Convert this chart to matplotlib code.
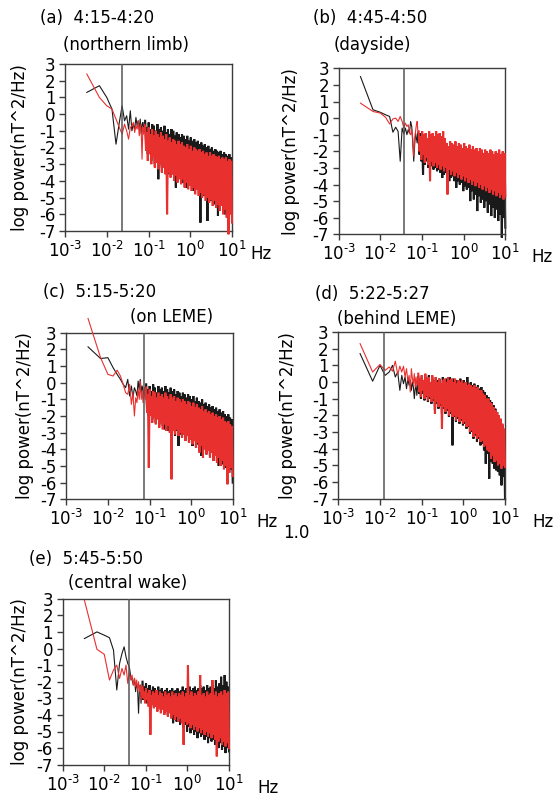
import numpy as np
import matplotlib
matplotlib.use('Agg')
import matplotlib.pyplot as plt
from matplotlib.ticker import NullLocator

plt.rcParams['font.family'] = ['DejaVu Sans']
plt.rcParams['font.size'] = 12
plt.rcParams['axes.unicode_minus'] = False

# FFT bins of a 5 min window (1/300 Hz) for the lowest frequencies,
# then the dense high-frequency part drawn as peaks/troughs
f_low = np.arange(1, 25) / 300.0
f_dense = np.logspace(-1.08, 1.0, 100)

xticks = [1e-3, 1e-2, 1e-1, 1e0, 1e1]
xticklabels = [r'$10^{\text{-}3}$', r'$10^{\text{-}2}$', r'$10^{\text{-}1}$', r'$10^{0}$', r'$10^{1}$']
yticks = [3, 2, 1, 0, -1, -2, -3, -4, -5, -6, -7]

# (a) 4:15-4:20 northern limb
a_black_low = [1.3, 1.7, 1.0, 0.3, -1.8, -0.5, 0.5, -0.4, -0.1, -0.9, 0.2, -1.0,
               -0.6, -0.9, -0.2, -0.7, -0.4, -0.9, -0.3, -1.2, -0.6, -0.5, -1.1, -0.5]
a_black_peaks = [-0.4, -0.8, -0.5, -0.9, -0.6, -0.7, -1.0, -0.6, -0.9, -0.8,
                 -1.0, -0.7, -1.1, -0.9, -1.2, -0.9, -1.0, -1.3, -1.1, -1.2,
                 -1.4, -1.2, -1.3, -1.5, -1.3, -1.6, -1.4, -1.6, -1.5, -1.7,
                 -1.6, -1.8, -1.7, -1.9, -1.8, -2.0, -1.9, -2.1, -2.0, -2.2,
                 -2.1, -2.2, -2.3, -2.2, -2.4, -2.3, -2.4, -2.5, -2.4, -2.6]
a_black_troughs = [-1.8, -2.4, -1.6, -2.8, -2.2, -3.0, -2.5, -3.9, -2.6, -3.2,
                   -2.9, -3.4, -3.0, -3.6, -3.2, -3.6, -3.3, -4.4, -3.5, -3.8,
                   -3.6, -4.1, -3.7, -4.4, -3.9, -4.2, -4.0, -4.6, -4.3, -4.5,
                   -4.4, -6.5, -4.5, -4.9, -4.6, -6.4, -4.7, -5.2, -4.9, -5.4,
                   -5.0, -6.1, -5.1, -5.5, -5.2, -6.0, -5.4, -5.8, -5.9, -5.6]
a_red_low = [2.4, 1.0, 0.5, 0.3, -0.3, -0.8, -1.2, -0.6, -1.0, -1.5, -0.8, -0.7,
             -0.5, -1.1, -0.7, -0.9, -0.4, -1.3, -0.6, -0.9, -2.7, -0.8, -1.2, -0.6]
a_red_peaks = [-0.7, -1.1, -0.8, -1.2, -0.9, -1.3, -1.0, -1.2, -1.4, -1.1,
               -1.3, -1.5, -1.2, -1.6, -1.4, -1.7, -1.5, -1.6, -1.8, -1.6,
               -1.8, -1.7, -1.9, -2.0, -1.8, -2.1, -1.9, -2.2, -2.0, -2.1,
               -2.2, -2.1, -2.3, -2.2, -2.4, -2.3, -2.5, -2.3, -2.5, -2.4,
               -2.5, -2.6, -2.5, -2.7, -2.6, -2.7, -2.6, -2.8, -2.7, -2.8]
a_red_troughs = [-2.2, -2.8, -2.4, -3.0, -2.6, -3.2, -2.9, -3.3, -3.0, -3.5,
                 -3.2, -3.6, -6.0, -3.5, -3.8, -3.6, -4.0, -3.7, -4.1, -3.9,
                 -4.2, -3.9, -4.4, -4.1, -4.5, -4.3, -4.6, -4.4, -4.8, -4.5,
                 -4.9, -4.7, -5.0, -4.8, -5.2, -5.0, -5.3, -5.1, -5.5, -5.2,
                 -5.6, -5.4, -5.8, -5.5, -6.0, -5.7, -6.2, -7.2, -6.0, -6.5]

# (b) 4:45-4:50 dayside
b_black_low = [2.5, 0.5, 0.35, 0.2, 0.1, -0.85, -0.55, -0.8, -2.6, -0.6, -0.95, -0.6,
               -1.0, -0.7, -0.9, -0.2, -0.5, -1.5, -2.6, -1.6, -0.9, -1.2, -1.5, -0.9]
b_black_peaks = [-1.2, -0.9, -1.5, -1.1, -1.4, -1.2, -1.6, -1.3, -1.8, -1.5,
                 -1.7, -1.9, -1.6, -2.0, -1.8, -2.1, -1.9, -2.2, -2.0, -2.3,
                 -2.1, -2.4, -2.2, -2.5, -2.3, -2.6, -2.4, -2.5, -2.7, -2.6,
                 -2.8, -2.6, -2.9, -2.7, -3.0, -2.8, -3.1, -2.9, -3.0, -3.2,
                 -3.0, -3.3, -3.1, -3.4, -3.2, -3.5, -3.3, -3.6, -3.4, -3.5]
b_black_troughs = [-2.2, -2.6, -3.4, -2.8, -2.6, -3.0, -2.8, -2.9, -3.1, -3.0,
                   -3.2, -3.1, -3.3, -3.6, -3.4, -3.3, -3.5, -3.8, -3.6, -3.5,
                   -3.8, -4.2, -3.8, -4.0, -3.9, -4.4, -4.1, -4.3, -4.2, -5.0,
                   -4.4, -4.9, -4.6, -5.6, -4.7, -5.1, -4.9, -5.4, -5.0, -5.7,
                   -5.2, -5.9, -5.4, -6.0, -5.5, -6.2, -5.8, -7.2, -6.0, -6.6]
b_red_low = [0.9, 0.4, 0.3, 0.05, -0.35, -0.05, 0.0, -0.2, 0.1, -0.2, -0.6, -0.3,
             -0.5, -0.4, -0.9, -1.0, -0.7, -1.2, -2.3, -1.3, -0.8, -0.4, -0.2, -0.9]
b_red_peaks = [-0.8, -1.1, -0.8, -1.0, -0.9, -1.2, -0.8, -1.0, -0.9, -1.1,
               -0.8, -1.0, -0.9, -1.1, -0.8, -1.2, -1.5, -1.7, -1.4, -1.5,
               -1.6, -1.4, -1.7, -1.5, -1.6, -1.8, -1.5, -1.7, -1.8, -1.6,
               -1.9, -1.7, -1.9, -1.8, -2.0, -1.8, -1.9, -2.1, -1.9, -2.0,
               -2.1, -1.9, -2.0, -2.2, -2.0, -2.1, -1.9, -2.2, -2.0, -2.1]
b_red_troughs = [-2.0, -2.5, -2.2, -2.7, -2.4, -2.8, -3.8, -2.6, -2.9, -2.7,
                 -3.0, -2.8, -3.1, -2.9, -3.2, -3.0, -4.6, -3.1, -3.4, -3.2,
                 -3.5, -3.3, -3.6, -3.4, -3.7, -3.5, -3.8, -3.6, -3.9, -3.7,
                 -4.0, -3.8, -4.1, -3.9, -4.2, -4.0, -4.3, -4.1, -4.4, -4.2,
                 -4.5, -4.3, -4.6, -4.4, -4.7, -4.5, -4.8, -4.6, -4.9, -4.7]

# (c) 5:15-5:20 on LEME
c_black_low = [2.15, 1.45, 1.5, 0.9, 0.5, 0.2, -0.1, -0.3, 0.2, -0.8, -0.2, -0.9,
               -0.3, -0.5, -0.8, 0.1, -0.4, 0.2, -0.6, -0.2, -0.5, -0.7, -0.3, -0.6]
c_black_peaks = [-0.1, -0.4, -0.2, -0.5, -0.1, -0.3, -0.6, -0.2, -0.4, -0.3,
                 -0.5, -0.2, -0.4, -0.6, -0.3, -0.5, -0.4, -0.7, -0.5, -0.6,
                 -0.8, -0.6, -0.7, -0.9, -0.7, -0.8, -1.0, -0.8, -1.1, -0.9,
                 -1.1, -1.2, -1.0, -1.3, -1.2, -1.4, -1.3, -1.5, -1.4, -1.6,
                 -1.5, -1.7, -1.6, -1.8, -1.7, -1.9, -2.0, -1.9, -2.1, -2.2]
c_black_troughs = [-1.5, -2.0, -1.7, -2.2, -1.9, -2.4, -2.1, -2.5, -2.2, -2.6,
                   -2.8, -2.4, -2.9, -2.6, -3.0, -2.8, -3.2, -2.9, -3.8, -3.1,
                   -3.3, -3.1, -3.5, -3.2, -3.6, -3.4, -3.8, -3.5, -3.9, -3.7,
                   -4.0, -4.4, -4.1, -3.9, -4.3, -4.0, -4.4, -4.2, -4.6, -4.3,
                   -4.7, -5.0, -4.6, -4.9, -4.8, -5.1, -5.0, -5.4, -5.2, -6.0]
c_red_low = [3.85, 1.5, 0.5, 0.4, 0.75, 0.4, -0.1, -0.6, -0.7, -0.1, -1.3, -0.6,
             -2.0, -0.9, -1.2, -0.4, -1.0, 0.1, -1.0, -0.5, -1.2, -0.8, -0.3, -1.0]
c_red_peaks = [-0.3, -0.7, -0.4, -0.8, -0.5, -0.6, -0.9, -0.6, -0.8, -0.7,
               -0.9, -0.6, -0.8, -1.0, -0.7, -0.9, -0.8, -1.1, -0.9, -1.0,
               -1.2, -1.0, -1.1, -1.3, -1.1, -1.2, -1.4, -1.2, -1.5, -1.3,
               -1.5, -1.6, -1.4, -1.7, -1.6, -1.8, -1.7, -1.9, -1.8, -2.0,
               -1.9, -2.1, -2.0, -2.2, -2.1, -2.3, -2.4, -2.3, -2.5, -2.6]
c_red_troughs = [-1.8, -5.1, -2.0, -2.4, -2.1, -2.5, -2.2, -2.7, -2.4, -2.8,
                 -2.5, -2.9, -2.6, -3.0, -5.8, -2.9, -3.1, -2.8, -3.2, -3.0,
                 -3.3, -3.1, -3.5, -3.2, -3.6, -3.4, -3.7, -3.5, -3.9, -3.6,
                 -4.2, -3.8, -4.5, -4.0, -4.3, -4.1, -4.5, -4.2, -4.7, -4.4,
                 -4.8, -4.5, -5.0, -4.7, -5.2, -5.0, -6.1, -5.4, -5.1, -5.6]

# (d) 5:22-5:27 behind LEME
d_black_low = [1.7, 0.05, 1.0, 0.4, 0.6, 1.0, 0.3, 0.6, -0.5, 0.4, -0.1, 0.3,
               -0.4, 0.2, -0.2, 0.1, -0.5, 0.0, -0.3, -1.0, -0.4, -0.2, -0.8, -0.3]
d_black_peaks = [0.3, -0.1, 0.4, 0.0, 0.3, 0.1, 0.4, -0.1, 0.2, 0.0,
                 0.3, 0.1, 0.2, -0.1, 0.3, 0.0, 0.2, 0.1, 0.3, -0.1,
                 0.2, 0.0, 0.1, -0.1, 0.2, 0.0, 0.1, -0.2, 0.3, -0.1,
                 0.0, -0.2, -0.1, -0.3, -0.2, -0.4, -0.3, -0.5, -0.6, -0.8,
                 -0.9, -1.1, -1.2, -1.4, -1.6, -1.8, -2.0, -2.3, -2.6, -3.0]
d_black_troughs = [-0.7, -1.0, -0.7, -1.1, -0.9, -1.2, -1.0, -1.3, -1.1, -1.7,
                   -1.3, -1.6, -1.4, -1.9, -1.6, -1.9, -1.7, -2.1, -1.9, -3.8,
                   -2.1, -2.4, -2.2, -2.5, -2.3, -2.6, -2.5, -2.8, -2.7, -3.1,
                   -3.0, -3.4, -3.2, -3.6, -3.4, -3.8, -3.7, -4.1, -4.9, -4.3,
                   -5.8, -4.8, -4.9, -5.2, -5.3, -5.4, -5.6, -6.2, -5.7, -7.0]
d_red_low = [2.3, 0.6, 1.05, 0.7, 0.9, 0.65, 1.25, 0.45, 0.95, 0.6, 0.95, 0.3,
             0.8, 0.05, 0.4, -0.6, 0.8, 0.2, -0.1, 0.5, -0.3, 0.3, -0.2, 0.1]
d_red_peaks = [0.5, 0.2, 0.4, 0.1, 0.5, 0.2, 0.3, 0.0, 0.4, 0.1,
               0.3, 0.0, 0.2, -0.1, 0.1, 0.2, 0.0, 0.3, 0.1, 0.2,
               0.0, 0.2, -0.1, 0.1, 0.0, 0.1, -0.1, 0.0, -0.2, -0.1,
               -0.2, -0.3, -0.2, -0.4, -0.3, -0.5, -0.5, -0.7, -0.8, -1.0,
               -1.0, -1.2, -1.3, -1.5, -1.7, -1.8, -2.0, -2.2, -2.5, -2.8]
d_red_troughs = [-0.6, -0.9, -0.5, -1.0, -0.8, -1.1, -0.9, -1.2, -1.0, -1.9,
                 -1.2, -1.5, -1.3, -2.8, -1.5, -1.8, -1.6, -2.0, -1.8, -2.1,
                 -2.0, -2.3, -2.1, -2.4, -2.2, -2.5, -2.4, -2.7, -2.6, -3.0,
                 -2.9, -3.3, -3.1, -3.4, -3.3, -3.6, -3.5, -3.9, -3.8, -4.1,
                 -4.2, -4.6, -4.4, -4.8, -4.7, -5.0, -4.9, -5.2, -5.0, -5.1]

# (e) 5:45-5:50 central wake
e_black_low = [0.6, 1.0, 0.8, 0.65, -0.1, -2.5, -0.9, -0.3, 0.1, -0.5, -0.9, -1.1,
               -1.7, -1.9, -2.2, -1.8, -2.6, -2.1, -2.4, -3.9, -2.5, -2.2, -3.3, -2.4]
e_black_peaks = [-2.0, -2.3, -2.1, -2.4, -2.2, -2.5, -2.3, -2.4, -2.6, -2.3,
                 -2.5, -2.4, -2.6, -2.5, -2.4, -2.6, -2.5, -2.4, -2.6, -2.5,
                 -2.4, -2.6, -2.5, -2.3, -2.5, -2.4, -2.6, -2.3, -2.5, -2.4,
                 -2.3, -2.5, -2.4, -2.2, -2.4, -2.3, -2.5, -2.2, -2.4, -2.3,
                 -2.2, -2.4, -1.9, -2.3, -2.1, -1.7, -2.2, -1.6, -2.0, -2.3]
e_black_troughs = [-3.1, -2.8, -3.3, -3.0, -3.4, -3.1, -3.5, -3.2, -3.6, -3.4,
                   -3.7, -3.5, -3.9, -3.6, -4.0, -3.8, -4.2, -4.5, -4.1, -4.4,
                   -4.3, -4.6, -4.4, -4.8, -4.6, -5.0, -4.7, -5.1, -4.9, -5.2,
                   -5.0, -5.4, -5.1, -5.3, -5.2, -5.5, -5.3, -5.7, -5.4, -5.6,
                   -5.5, -5.8, -5.6, -6.0, -5.7, -6.1, -5.9, -6.3, -6.0, -6.2]
e_red_low = [2.9, -0.05, -0.35, -1.9, -1.3, -1.0, -1.8, -1.2, -1.6, -1.0, -2.1, -1.4,
             -1.9, -1.6, -2.2, -1.8, -2.3, -1.9, -2.5, -2.0, -2.6, -2.2, -3.1, -2.4]
e_red_peaks = [-2.3, -2.6, -2.4, -2.7, -2.5, -2.8, -2.6, -2.7, -2.5, -2.8,
               -2.6, -2.7, -2.9, -2.6, -2.8, -2.7, -2.9, -2.6, -2.8, -2.7,
               -2.9, -2.7, -2.8, -2.6, -2.9, -2.7, -1.0, -2.8, -2.6, -2.9,
               -2.7, -2.8, -2.6, -1.6, -2.8, -2.7, -2.9, -2.6, -2.8, -2.7,
               -1.9, -2.8, -2.6, -2.9, -2.7, -2.6, -2.8, -2.5, -2.7, -2.6]
e_red_troughs = [-3.0, -3.3, -3.1, -3.5, -5.2, -3.4, -3.6, -3.5, -3.8, -3.6,
                 -3.9, -3.7, -4.0, -3.8, -4.1, -3.9, -4.2, -4.0, -4.3, -4.1,
                 -4.4, -4.2, -4.5, -5.8, -4.4, -4.6, -4.5, -4.8, -4.6, -4.9,
                 -4.7, -5.0, -4.8, -5.1, -4.9, -5.2, -5.0, -5.3, -5.1, -5.4,
                 -5.2, -5.5, -6.5, -5.6, -5.4, -5.8, -5.6, -5.9, -5.7, -6.0]


def dense(peaks, troughs):
    return np.column_stack([peaks, troughs]).ravel()


W, H = 558, 801
panels = [
    dict(rect=[65, 64, 167, 167], title='(a)  4:15-4:20', title_xy=(40, 18),
         place='(northern limb)', place_xy=(63, 45), fcut=0.0233, ylab_dx=45, hz_dx=18,
         black=(a_black_low, a_black_peaks, a_black_troughs),
         red=(a_red_low, a_red_peaks, a_red_troughs)),
    dict(rect=[338.7, 68.3, 166.6, 166], title='(b)  4:45-4:50', title_xy=(313, 18),
         place='(dayside)', place_xy=(334, 45), fcut=0.037, ylab_dx=48, hz_dx=26,
         black=(b_black_low, b_black_peaks, b_black_troughs),
         red=(b_red_low, b_red_peaks, b_red_troughs)),
    dict(rect=[66.3, 332.7, 166.4, 166.6], title='(c)  5:15-5:20', title_xy=(43, 292),
         place='(on LEME)', place_xy=(130, 317), fcut=0.0718, ylab_dx=41, hz_dx=24,
         black=(c_black_low, c_black_peaks, c_black_troughs),
         red=(c_red_low, c_red_peaks, c_red_troughs)),
    dict(rect=[338.3, 332, 166.7, 166.7], title='(d)  5:22-5:27', title_xy=(315, 294),
         place='(behind LEME)', place_xy=(337, 319), fcut=0.01225, ylab_dx=50, hz_dx=27,
         black=(d_black_low, d_black_peaks, d_black_troughs),
         red=(d_red_low, d_red_peaks, d_red_troughs)),
    dict(rect=[62.7, 598.7, 166.3, 166], title='(e)  5:45-5:50', title_xy=(29, 559),
         place='(central wake)', place_xy=(68, 583), fcut=0.0386, ylab_dx=43, hz_dx=28,
         black=(e_black_low, e_black_peaks, e_black_troughs),
         red=(e_red_low, e_red_peaks, e_red_troughs)),
]

fig = plt.figure(figsize=(W / 100, H / 100), dpi=100)
frame = '#3c3c3c'
colors = {'black': '#1a1a1a', 'red': '#e8302f'}

for p in panels:
    x0, y0, w, h = p['rect']
    ax = fig.add_axes([x0 / W, 1 - (y0 + h) / H, w / W, h / H])
    ax.set_xscale('log')

    for key, z in (('black', 2), ('red', 3)):
        low, peaks, troughs = p[key]
        # join the low bins to the dense band so the trace is continuous
        ax.plot(np.append(f_low, f_dense[0]), np.append(low, peaks[0]),
                color=colors[key], lw=0.8, clip_on=False, zorder=z)
        ax.plot(f_dense, dense(peaks, troughs), color=colors[key], lw=1.5,
                clip_on=False, zorder=z, solid_joinstyle='miter')
    ax.axvline(p['fcut'], color='#555555', lw=1.1, zorder=4)

    ax.set_xlim(1e-3, 1e1)
    ax.set_ylim(-7, 3)
    ax.set_xticks(xticks)
    ax.set_xticklabels(xticklabels)
    ax.xaxis.set_minor_locator(NullLocator())
    ax.set_yticks(yticks)
    ax.set_yticklabels([str(v) for v in yticks])
    ax.tick_params(direction='out', length=4, width=1, pad=3, color=frame,
                   labelsize=12)
    for s in ax.spines.values():
        s.set_color(frame)
        s.set_linewidth(1)

    ax.text(-p['ylab_dx'] / w, 0.5, 'log power(nT^2/Hz)', rotation=90,
            ha='center', va='center', transform=ax.transAxes)
    ax.text(1 + p['hz_dx'] / w, -23 / h, 'Hz', ha='left', va='center',
            transform=ax.transAxes)

    fig.text(p['title_xy'][0] / W, 1 - p['title_xy'][1] / H, p['title'],
             ha='left', va='center')
    fig.text(p['place_xy'][0] / W, 1 - p['place_xy'][1] / H, p['place'],
             ha='left', va='center')

fig.text(283 / W, 1 - 533 / H, '1.0', ha='left', va='center')

fig.savefig('out.png', dpi=100)
